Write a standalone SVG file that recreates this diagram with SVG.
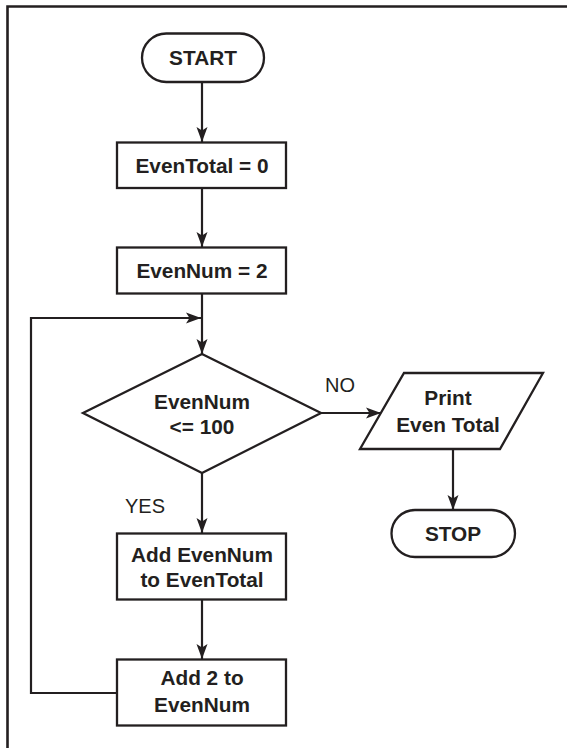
<svg xmlns="http://www.w3.org/2000/svg" width="567" height="748" viewBox="0 0 567 748">
<style>
.shape{fill:#fff;stroke:#231f20;stroke-width:2.3}
.conn{fill:none;stroke:#231f20;stroke-width:2.2}
.t{font-family:"Liberation Sans",Arial,Helvetica,sans-serif;font-weight:bold;font-size:20.8px;fill:#231f20;text-anchor:middle}
.l{font-family:"Liberation Sans",Arial,Helvetica,sans-serif;font-size:20px;fill:#231f20}
</style>
<defs>
<marker id="arr" markerUnits="userSpaceOnUse" markerWidth="16" markerHeight="12" viewBox="0 0 16 12" refX="15" refY="6" orient="auto">
<path d="M0,0.5 L15,6 L0,11.5 L3.5,6 Z" fill="#231f20"/>
</marker>
</defs>
<rect width="567" height="748" fill="#fff"/>
<g id="frame">
<path d="M7.5,748 V6.5 H567" fill="none" stroke="#231f20" stroke-width="2.6"/>
</g>
<g id="connectors">
<line class="conn" x1="202" y1="82" x2="202" y2="142" marker-end="url(#arr)"/>
<line class="conn" x1="202" y1="188" x2="202" y2="247" marker-end="url(#arr)"/>
<line class="conn" x1="202" y1="294" x2="202" y2="354" marker-end="url(#arr)"/>
<polyline class="conn" points="117,693 31,693 31,318 201,318" marker-end="url(#arr)"/>
<line class="conn" x1="321" y1="413" x2="381" y2="413" marker-end="url(#arr)"/>
<line class="conn" x1="453" y1="449" x2="453" y2="510" marker-end="url(#arr)"/>
<line class="conn" x1="202" y1="473" x2="202" y2="533" marker-end="url(#arr)"/>
<line class="conn" x1="202" y1="600" x2="202" y2="659" marker-end="url(#arr)"/>
<text class="l" x="325" y="392">NO</text>
<text class="l" x="125" y="513">YES</text>
</g>
<g id="start">
<rect class="shape" x="142" y="33.5" width="122" height="48.5" rx="24.25"/>
<text class="t" x="203" y="64.5">START</text>
</g>
<g id="eventotal0">
<rect class="shape" x="117" y="142.5" width="169" height="45.5"/>
<text class="t" x="202" y="173">EvenTotal = 0</text>
</g>
<g id="evennum2">
<rect class="shape" x="117" y="247.5" width="169" height="46"/>
<text class="t" x="202" y="278">EvenNum = 2</text>
</g>
<g id="decision">
<polygon class="shape" points="202,354 321,413 202,473 83,413"/>
<text class="t" x="202" y="408.5">EvenNum</text>
<text class="t" x="202" y="434">&lt;= 100</text>
</g>
<g id="print">
<polygon class="shape" points="404,373 543,373 500,449 360,449"/>
<text class="t" x="448" y="405">Print</text>
<text class="t" x="448" y="431.5">Even Total</text>
</g>
<g id="stop">
<rect class="shape" x="391.5" y="510" width="123.5" height="47" rx="23.5"/>
<text class="t" x="453" y="541">STOP</text>
</g>
<g id="addevennum">
<rect class="shape" x="117" y="533.5" width="169" height="66"/>
<text class="t" x="202" y="562">Add EvenNum</text>
<text class="t" x="202" y="586.5">to EvenTotal</text>
</g>
<g id="add2">
<rect class="shape" x="117" y="659.5" width="169" height="66"/>
<text class="t" x="202" y="685">Add 2 to</text>
<text class="t" x="202" y="712">EvenNum</text>
</g>
</svg>
